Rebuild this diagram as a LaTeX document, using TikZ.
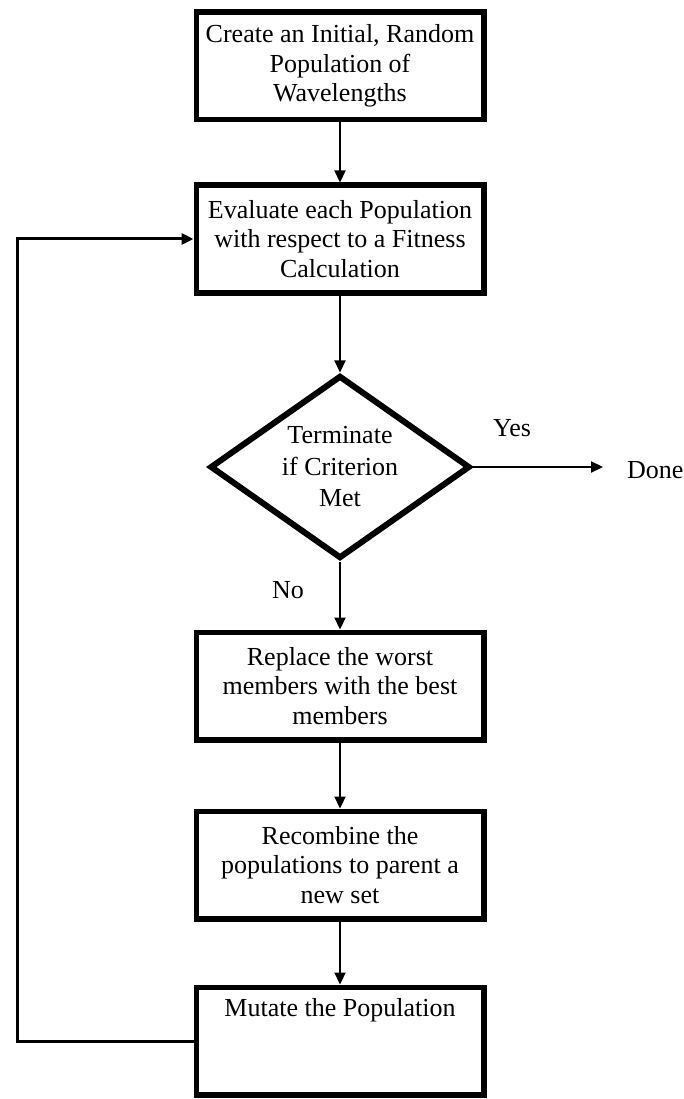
\documentclass[tikz,border=0pt]{standalone}
\usepackage{fontspec}
\setmainfont{Liberation Serif}
\usetikzlibrary{arrows.meta,shapes.geometric}
\begin{document}
\begin{tikzpicture}[x=1pt,y=-1pt,
  every node/.style={font=\fontsize{26}{29.5}\selectfont},
  stepbox/.style={draw, line width=5.5pt, minimum width=287.5pt,
    minimum height=107.5pt, inner sep=0pt, align=center},
  decision/.style={draw, diamond, line width=6pt, minimum width=260pt,
    minimum height=183pt, inner sep=0pt, aspect=1.42, align=center,
    font=\fontsize{26}{31.5}\selectfont},
  flow/.style={line width=2.2pt, -{Triangle[length=12pt,width=11pt]}},
  lbl/.style={inner sep=0pt}]
\useasboundingbox (0,0) rectangle (684,1099);

% process steps
\node[stepbox] (b1) at (340,66) {Create an Initial, Random\\Population of\\Wavelengths};
\node[stepbox] (b2) at (340,239) {Evaluate each Population\\with respect to a Fitness\\Calculation};
\node[decision] (dec) at (340,467) {Terminate\\if Criterion\\Met};
\node[stepbox] (b3) at (340,686) {Replace the worst\\members with the best\\members};
\node[stepbox] (b4) at (340,865) {Recombine the\\populations to parent a\\new set};
\node[stepbox] (b5) at (340,1041) {Mutate the Population\\\strut\\\strut};

% labels
\node[lbl, anchor=west] (done) at (627,470) {Done};
\node[lbl] (yes) at (512,428) {Yes};
\node[lbl] (no) at (288,590) {No};
\coordinate (fb) at (17,0);

% connectors
\draw[flow] (b1) -- (b2);
\draw[flow] (b2) -- (dec);
\draw[flow, shorten >=24pt] (dec.east) -- (dec.east -| done.west);
\draw[flow] (dec) -- (b3);
\draw[flow] (b3) -- (b4);
\draw[flow] (b4) -- (b5);
\draw[flow, line width=3pt] (b5.west) -- (b5.west -| fb) -- (b2.west -| fb) -- (b2.west);
\end{tikzpicture}
\end{document}
